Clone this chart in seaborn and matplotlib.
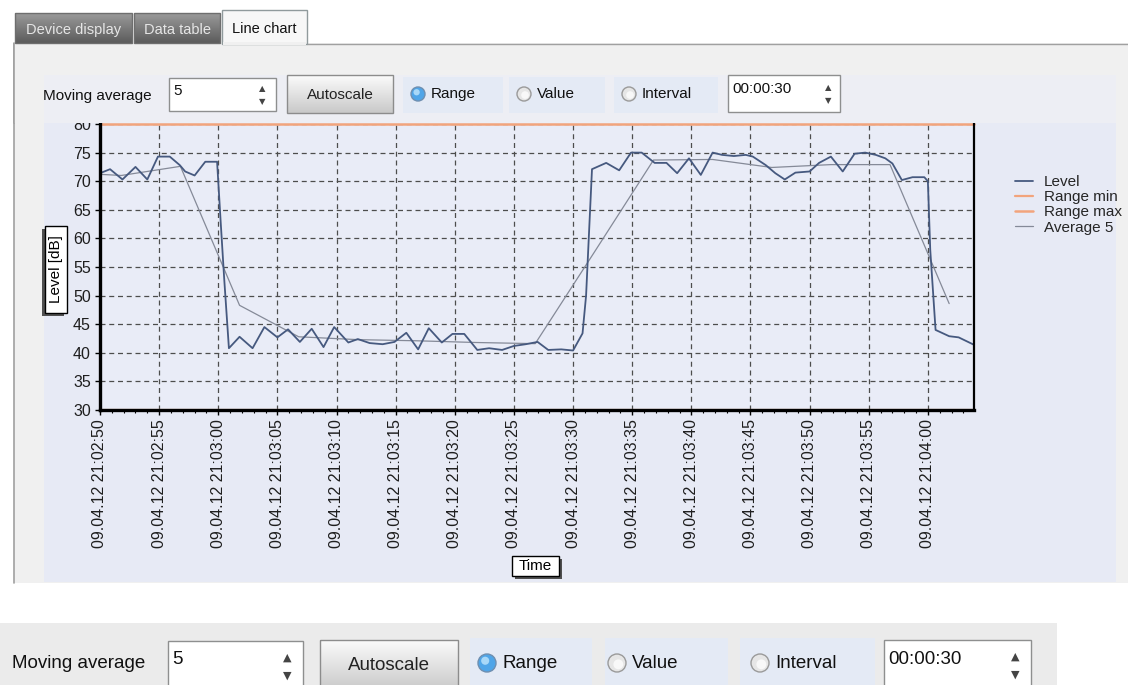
import numpy as np
import pandas as pd
import matplotlib
matplotlib.use("Agg")
import matplotlib.pyplot as plt
import matplotlib.dates as mdates
from matplotlib.patches import Rectangle, Circle
from matplotlib.colors import LinearSegmentedColormap
import seaborn as sns

# seconds after the first sample (09.04.12 21:02:50)
start_time = "2012-04-09 21:02:50"
level_sec = [0, 0.85, 1.9, 3.0, 4.0, 4.9, 5.9, 6.75, 7.2, 8.0, 8.9, 9.9, 10.2, 10.5, 10.9,
             11.8, 12.9, 13.9, 15.0, 15.9, 16.9, 17.9, 18.9, 19.8, 21.0, 21.8, 22.8, 23.9,
             24.9, 25.9, 26.9, 27.8, 28.9, 29.8, 30.8, 31.9, 32.9, 34.0, 35.0, 36.0, 37.0,
             37.9, 39.0, 40.0, 40.8, 41.1, 41.6, 42.8, 43.9, 44.9, 45.8, 46.9, 47.9, 48.8,
             49.8, 50.8, 51.8, 52.6, 53.6, 54.6, 55.2, 56.3, 57.1, 57.9, 58.8, 60.0, 60.8,
             61.8, 62.8, 63.8, 64.7, 65.6, 66.4, 67.0, 67.8, 68.7, 69.7, 70.0, 70.2, 70.65,
             71.8, 72.6, 73.9]
level_db = [71.4, 72.1, 70.3, 72.5, 70.3, 74.3, 74.3, 72.8, 71.7, 71.0, 73.4, 73.4, 63.0, 53.0, 40.8,
            42.8, 40.8, 44.5, 42.7, 44.1, 41.9, 44.2, 41.0, 44.5, 41.8, 42.4, 41.7, 41.5,
            41.9, 43.5, 40.6, 44.3, 41.8, 43.3, 43.3, 40.5, 40.8, 40.5, 41.2, 41.5, 41.9,
            40.5, 40.6, 40.4, 43.4, 50.0, 72.1, 73.2, 71.9, 75.0, 75.0, 73.2, 73.2, 71.4,
            74.0, 71.1, 75.0, 74.6, 74.4, 74.6, 74.3, 72.8, 71.4, 70.3, 71.5, 71.7, 73.2,
            74.3, 71.7, 74.8, 75.0, 74.6, 74.0, 73.1, 70.2, 70.7, 70.7, 70.0, 58.0, 44.0,
            42.9, 42.7, 41.4]
avg_sec = [0, 1.8, 6.8, 11.8, 16.8, 21.8, 26.8, 31.8, 36.8, 41.8, 46.8, 51.8, 56.8, 61.8, 66.8, 71.8]
avg_db = [71.2, 71.0, 72.6, 48.3, 42.8, 42.3, 42.1, 41.8, 41.6, 57.6, 73.7, 73.8, 72.4, 72.9, 72.9, 48.6]
range_min = 30
range_max = 80
view_seconds = 73.9
y_ticks = list(range(30, 81, 5))
legend_labels = ["Level", "Range min", "Range max", "Average 5"]
tab_names = ["Device display", "Data table", "Line chart"]

sns.set_style("white")
plt.rcParams["font.family"] = ["Liberation Sans", "DejaVu Sans"]

W, H = 1128, 685
fig = plt.figure(figsize=(W / 100, H / 100), dpi=100)


def fig_box(x0, y0, x1, y1):
    return [x0 / W, 1 - y1 / H, (x1 - x0) / W, (y1 - y0) / H]


def pixel_axes(z):
    a = fig.add_axes([0, 0, 1, 1], zorder=z)
    a.set_xlim(0, W)
    a.set_ylim(H, 0)
    a.axis("off")
    a.patch.set_visible(False)
    return a


def rect(a, x0, y0, x1, y1, fc, ec="none", lw=1.0, z=1):
    a.add_patch(Rectangle((x0, y0), x1 - x0, y1 - y0, facecolor=fc, edgecolor=ec, linewidth=lw, zorder=z))


def vgrad(a, x0, y0, x1, y1, c_top, c_bot, z=1):
    g = np.linspace(0, 1, 64)[:, None]
    cmap = LinearSegmentedColormap.from_list("g", [c_top, c_bot])
    a.imshow(g, extent=(x0, x1, y1, y0), cmap=cmap, aspect="auto", zorder=z, interpolation="bilinear")


def spinbox(a, x0, y0, x1, y1, text, fs, arrow_x, arrow_fs):
    rect(a, x0, y0, x1, y1, "white", "#8E8F8F", 1.0, z=2)
    a.text(x0 + 4, y0 + (y1 - y0) * 0.38, text, fontsize=fs, ha="left", va="center", color="#111111", zorder=3)
    mid = (y0 + y1) / 2
    a.text(arrow_x, mid - (y1 - y0) * 0.17, "\u25b2", fontsize=arrow_fs, ha="center", va="center",
           color="#444444", family="DejaVu Sans", zorder=3)
    a.text(arrow_x, mid + (y1 - y0) * 0.2, "\u25bc", fontsize=arrow_fs, ha="center", va="center",
           color="#444444", family="DejaVu Sans", zorder=3)


def button(a, x0, y0, x1, y1, text, fs):
    vgrad(a, x0, y0, x1, y1, "#FBFBFB", "#C9C9C9", z=2)
    rect(a, x0, y0, x1, y1, "none", "#8C8C8C", 1.0, z=3)
    a.text((x0 + x1) / 2, (y0 + y1) / 2 + 1, text, fontsize=fs, ha="center", va="center", color="#222222", zorder=4)


def radio(a, box, cx, cy, r, text, fs, selected):
    rect(a, box[0], box[1], box[2], box[3], "#E4EAF5", z=2)
    if selected:
        a.add_patch(Circle((cx, cy), r, facecolor="#4FA5E8", edgecolor="#6F8FB0", linewidth=1.0, zorder=3))
        a.add_patch(Circle((cx - r * 0.2, cy - r * 0.25), r * 0.45, facecolor="#A8D8F8", edgecolor="none", zorder=4))
    else:
        a.add_patch(Circle((cx, cy), r, facecolor="#E6E6E6", edgecolor="#9A9A9A", linewidth=1.0, zorder=3))
        a.add_patch(Circle((cx + r * 0.15, cy + r * 0.15), r * 0.55, facecolor="#F8F8F8", edgecolor="none", zorder=4))
    a.text(cx + r + 6, cy, text, fontsize=fs, ha="left", va="center", color="#111111", zorder=4)


# background: page, tab panel, chart panel, bottom strip
bg = pixel_axes(-2)
rect(bg, 0, 0, W, H, "white", z=0)
rect(bg, 14, 43, W, 583, "#F0F0F0", z=1)
bg.plot([14, 14], [43, 583], color="#A0A0A0", lw=1.2, zorder=2)
rect(bg, 44, 119, 1116, 582, "#E7EAF5", z=2)

rect(bg, 0, 623, 1057, H, "#EBEBEB", z=1)
bs = 13.5
bg.text(12, 663, "Moving average", fontsize=bs, ha="left", va="center", color="#111111", zorder=3)
spinbox(bg, 168, 641, 303, 690, "5", bs, 287, 8)
button(bg, 320, 640, 458, 690, "Autoscale", bs)
radio(bg, (470, 638, 592, 690), 487, 663, 9, "Range", bs, True)
radio(bg, (605, 638, 728, 690), 617, 663, 9, "Value", bs, False)
radio(bg, (740, 638, 875, 690), 760, 663, 9, "Interval", bs, False)
spinbox(bg, 884, 640, 1031, 690, "00:00:30", bs, 1015, 8)

# chart
t0 = pd.Timestamp(start_time)
level_df = pd.DataFrame({"time": t0 + pd.to_timedelta(level_sec, unit="s"), "db": level_db})
avg_df = pd.DataFrame({"time": t0 + pd.to_timedelta(avg_sec, unit="s"), "db": avg_db})

ax = fig.add_axes(fig_box(100, 124, 974, 410), zorder=1)
ax.set_facecolor("#E9ECF7")
sns.lineplot(data=avg_df, x="time", y="db", ax=ax, color="#858A98", lw=0.9,
             estimator=None, sort=False, label="Average 5", zorder=3)
sns.lineplot(data=level_df, x="time", y="db", ax=ax, color="#46597F", lw=1.3,
             estimator=None, sort=False, label="Level", zorder=4)
ax.axhline(range_min, color="#F2A47C", lw=1.6, label="Range min", zorder=2)
ax.axhline(range_max, color="#F2A47C", lw=1.8, label="Range max", zorder=5, clip_on=False)

ax.set_ylim(range_min, range_max)
ax.set_xlim(t0, t0 + pd.Timedelta(seconds=view_seconds))
ax.set_yticks(y_ticks)
ax.xaxis.set_major_locator(mdates.SecondLocator(bysecond=range(0, 60, 5)))
ax.xaxis.set_minor_locator(mdates.SecondLocator())
ax.xaxis.set_major_formatter(mdates.DateFormatter("%d.%m.%y %H:%M:%S"))
ax.grid(True, which="major", color="#4D4D4D", lw=0.9, linestyle=(0, (4, 3)))
ax.set_axisbelow(True)
ax.tick_params(axis="both", which="major", direction="out", length=3.5, width=1, color="black",
               labelsize=11.5, labelcolor="#1E1E1E", pad=3, left=True, bottom=True)
ax.tick_params(axis="x", which="minor", direction="out", length=2.5, width=0.8, color="black", bottom=True)
plt.setp(ax.get_xticklabels(), rotation=90, ha="center", va="top")
ax.set_xlabel("")
ax.set_ylabel("")
for side, lw in [("left", 2.4), ("bottom", 2.4), ("right", 1.6)]:
    ax.spines[side].set_visible(True)
    ax.spines[side].set_color("black")
    ax.spines[side].set_linewidth(lw)
    ax.spines[side].set_zorder(6)
ax.spines["top"].set_visible(False)

handles, labels = ax.get_legend_handles_labels()
lookup = dict(zip(labels, handles))
ax.legend([lookup[l] for l in legend_labels], legend_labels, loc="upper left",
          bbox_to_anchor=(1015 / W, 1 - 175 / H), bbox_transform=fig.transFigure,
          frameon=False, fontsize=11, handlelength=1.2, handletextpad=0.7,
          labelspacing=0.08, borderaxespad=0, borderpad=0)

# boxed axis titles with a drop shadow
lab = pixel_axes(3)
rect(lab, 42, 229, 64, 316, "#505050", z=1)
rect(lab, 45, 226, 67, 313, "white", "black", 1.0, z=2)
lab.text(56, 269.5, "Level [dB]", rotation=90, ha="center", va="center", fontsize=11, color="black", zorder=3)
rect(lab, 515, 559, 562, 579, "#505050", z=1)
rect(lab, 512, 556, 559, 576, "white", "black", 1.0, z=2)
lab.text(535.5, 566.5, "Time", ha="center", va="center", fontsize=11, color="black", zorder=3)

# top: tabs and toolbar (drawn over the chart top, hiding half of the "80" label)
cover = 123
fg = pixel_axes(5)
rect(fg, 0, 0, W, 43, "white", z=0)
rect(fg, 14, 43, W, cover, "#F0F0F0", z=1)
rect(fg, 44, 75, 1116, cover, "#EDEEF4", z=1)
fg.plot([14, 14], [43, cover], color="#A0A0A0", lw=1.2, zorder=2)
fg.plot([307, W], [43.5, 43.5], color="#A0A0A0", lw=1.0, zorder=2)

tab_boxes = [(15, 132), (134, 220), (222, 307)]
for (x0, x1), name in zip(tab_boxes, tab_names):
    if name == "Line chart":
        rect(fg, x0, 10, x1, 44, "#F7F7F7", "#909A9C", 1.0, z=3)
        rect(fg, x0 + 1, 42, x1 - 1, 45, "#F0F0F0", z=4)
        fg.text((x0 + x1) / 2, 29, name, fontsize=10.5, ha="center", va="center", color="#111111", zorder=5)
    else:
        vgrad(fg, x0, 13, x1, 43, "#9A9A9A", "#5C5C5C", z=3)
        rect(fg, x0, 13, x1, 43, "none", "#6E6E6E", 1.0, z=4)
        fg.text((x0 + x1) / 2, 30, name, fontsize=10.5, ha="center", va="center", color="#E6E6E6", zorder=5)

ts = 11
fg.text(43, 96, "Moving average", fontsize=ts, ha="left", va="center", color="#111111", zorder=3)
spinbox(fg, 169, 78, 276, 111, "5", ts, 262, 6)
button(fg, 287, 75, 393, 113, "Autoscale", ts)
radio(fg, (403, 77, 503, 113), 418, 94, 7, "Range", ts, True)
radio(fg, (509, 77, 605, 113), 524, 94, 7, "Value", ts, False)
radio(fg, (614, 77, 718, 113), 629, 94, 7, "Interval", ts, False)
spinbox(fg, 728, 75, 840, 112, "00:00:30", ts, 828, 6)

for a in (bg, lab, fg):
    a.set_xlim(0, W)
    a.set_ylim(H, 0)

fig.savefig("out.png", dpi=100)
